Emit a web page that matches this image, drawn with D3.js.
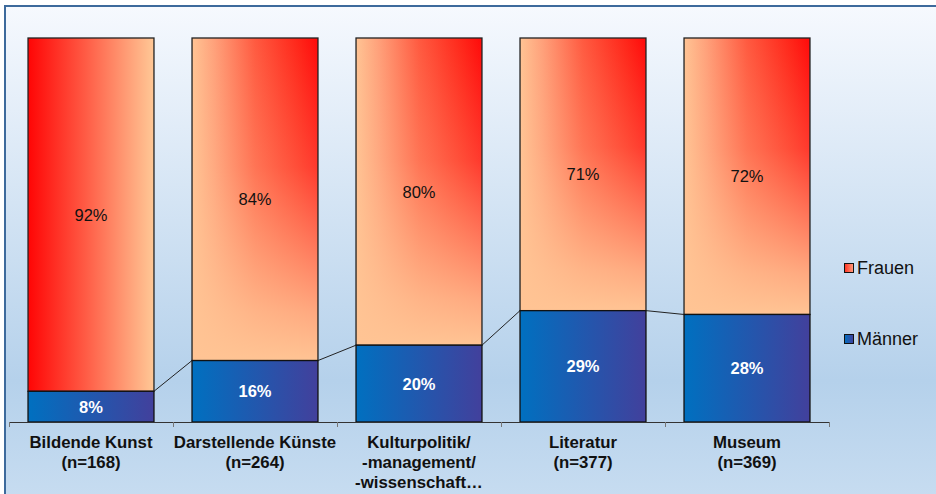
<!DOCTYPE html>
<html>
<head>
<meta charset="utf-8">
<script src="https://cdn.jsdelivr.net/npm/d3@7/dist/d3.min.js"></script>
<style>
  html, body { margin: 0; padding: 0; background: #fff; }
  svg { display: block; font-family: "Liberation Sans", Arial, sans-serif; }
</style>
</head>
<body>
<svg id="chart" width="936" height="494"></svg>
<script>
const categories = [
  ["Bildende Kunst", "(n=168)"],
  ["Darstellende Künste", "(n=264)"],
  ["Kulturpolitik/", "-management/", "-wissenschaft…"],
  ["Literatur", "(n=377)"],
  ["Museum", "(n=369)"]
];
const maenner = [8, 16, 20, 29, 28];
const frauen = [92, 84, 80, 71, 72];
const seriesNames = ["Frauen", "Männer"];

(function () {
const svg = d3.select("#chart");
const defs = svg.append("defs");

const bg = defs.append("linearGradient").attr("id", "bg").attr("x1", 0).attr("y1", 0).attr("x2", 0).attr("y2", 1);
bg.append("stop").attr("offset", 0).attr("stop-color", "#f6f9fe");
bg.append("stop").attr("offset", 0.75).attr("stop-color", "#b5d1eb");
bg.append("stop").attr("offset", 1).attr("stop-color", "#c8ddf1");

const fh = defs.append("linearGradient").attr("id", "fH").attr("x1", 0).attr("y1", 0).attr("x2", 1).attr("y2", 0);
fh.append("stop").attr("offset", 0).attr("stop-color", "#ffc494");
fh.append("stop").attr("offset", 0.18).attr("stop-color", "#ffa07a");
fh.append("stop").attr("offset", 0.5).attr("stop-color", "#ff5a40");
fh.append("stop").attr("offset", 0.85).attr("stop-color", "#ff2418");
fh.append("stop").attr("offset", 1).attr("stop-color", "#ff0a0a");
const fv = defs.append("linearGradient").attr("id", "fV").attr("x1", 0).attr("y1", 0).attr("x2", 0).attr("y2", 1);
fv.append("stop").attr("offset", 0).attr("stop-color", "#ffc494").attr("stop-opacity", 0);
fv.append("stop").attr("offset", 0.4).attr("stop-color", "#ffc494").attr("stop-opacity", 0.25);
fv.append("stop").attr("offset", 0.85).attr("stop-color", "#ffc494").attr("stop-opacity", 0.85);
fv.append("stop").attr("offset", 1).attr("stop-color", "#ffc494").attr("stop-opacity", 1);
const f1 = defs.append("linearGradient").attr("id", "f1").attr("x1", 0).attr("y1", 0).attr("x2", 1).attr("y2", 0);
f1.append("stop").attr("offset", 0).attr("stop-color", "#ff0505");
f1.append("stop").attr("offset", 0.45).attr("stop-color", "#ff5a44");
f1.append("stop").attr("offset", 1).attr("stop-color", "#ffc896");
const mg = defs.append("linearGradient").attr("id", "mG").attr("x1", 0).attr("y1", 0).attr("x2", 1).attr("y2", 0);
mg.append("stop").attr("offset", 0).attr("stop-color", "#0070c0");
mg.append("stop").attr("offset", 1).attr("stop-color", "#42409c");
const lf = defs.append("linearGradient").attr("id", "lF").attr("x1", 0).attr("y1", 0).attr("x2", 1).attr("y2", 0);
lf.append("stop").attr("offset", 0).attr("stop-color", "#ff3020");
lf.append("stop").attr("offset", 1).attr("stop-color", "#ffa080");

svg.append("rect").attr("x", 5).attr("y", 6).attr("width", 940).attr("height", 500)
  .attr("fill", "url(#bg)").attr("stroke", "#3d6a9c").attr("stroke-width", 2);

const pLeft = 9, pRight = 829, pTop = 38, pBottom = 422;
const x = d3.scaleBand().domain(d3.range(categories.length)).range([pLeft, pRight]).paddingInner(0.232).paddingOuter(0.116);
const y = d3.scaleLinear().domain([0, 100]).range([pBottom, pTop]);
const bw = x.bandwidth();

const g = svg.append("g");

categories.forEach((c, i) => {
  const x0 = x(i), y0 = y(maenner[i] + frauen[i]), h = y(maenner[i]) - y0;
  if (i === 0) {
    g.append("rect").attr("x", x0).attr("y", y0).attr("width", bw).attr("height", h).attr("fill", "url(#f1)");
  } else {
    g.append("rect").attr("x", x0).attr("y", y0).attr("width", bw).attr("height", h).attr("fill", "url(#fH)");
    g.append("rect").attr("x", x0).attr("y", y0).attr("width", bw).attr("height", h).attr("fill", "url(#fV)");
  }
  g.append("rect").attr("x", x0).attr("y", y0).attr("width", bw).attr("height", h)
    .attr("fill", "none").attr("stroke", "#222").attr("stroke-width", 1.3);
  g.append("rect").attr("x", x0).attr("y", y(maenner[i])).attr("width", bw).attr("height", y(0) - y(maenner[i]))
    .attr("fill", "url(#mG)").attr("stroke", "#111").attr("stroke-width", 1.3);
});

for (let i = 0; i < categories.length - 1; i++) {
  g.append("line")
    .attr("x1", x(i) + bw).attr("y1", y(maenner[i]))
    .attr("x2", x(i + 1)).attr("y2", y(maenner[i + 1]))
    .attr("stroke", "#222").attr("stroke-width", 1);
}

categories.forEach((c, i) => {
  const cx = x(i) + bw / 2;
  g.append("text").attr("x", cx).attr("y", (y(maenner[i] + frauen[i]) + y(maenner[i])) / 2 + 6)
    .attr("text-anchor", "middle").attr("font-size", 16.5).attr("fill", "#111").text(frauen[i] + "%");
  g.append("text").attr("x", cx).attr("y", (y(maenner[i]) + y(0)) / 2 + 6)
    .attr("text-anchor", "middle").attr("font-size", 16.5).attr("font-weight", "bold").attr("fill", "#fff").text(maenner[i] + "%");
});

const axisG = svg.append("g");
axisG.append("line").attr("x1", pLeft).attr("x2", pRight).attr("y1", pBottom + 0.5).attr("y2", pBottom + 0.5)
  .attr("stroke", "#333").attr("stroke-width", 1);
const step = x.step();
d3.range(categories.length + 1).forEach(k => {
  const tx = Math.round(pLeft + k * step) + 0.5;
  axisG.append("line").attr("x1", tx).attr("x2", tx).attr("y1", pBottom).attr("y2", pBottom + 5)
    .attr("stroke", "#777").attr("stroke-width", 1);
});
categories.forEach((c, i) => {
  const cx = x(i) + bw / 2;
  const t = axisG.append("text").attr("text-anchor", "middle").attr("font-size", 16.8).attr("font-weight", "bold").attr("fill", "#111");
  c.forEach((line, j) => {
    t.append("tspan").attr("x", cx).attr("y", 448 + j * 20).text(line);
  });
});

const leg = svg.append("g");
const legFills = ["url(#lF)", "url(#mG)"];
const legY = [263, 334];
seriesNames.forEach((s, i) => {
  leg.append("rect").attr("x", 844.5).attr("y", legY[i] + 0.5).attr("width", 9).attr("height", 9)
    .attr("fill", legFills[i]).attr("stroke", "#111").attr("stroke-width", 1);
  leg.append("text").attr("x", 857).attr("y", legY[i] + 11).attr("font-size", 18).attr("fill", "#111").text(s);
});
})();
</script>
</body>
</html>
